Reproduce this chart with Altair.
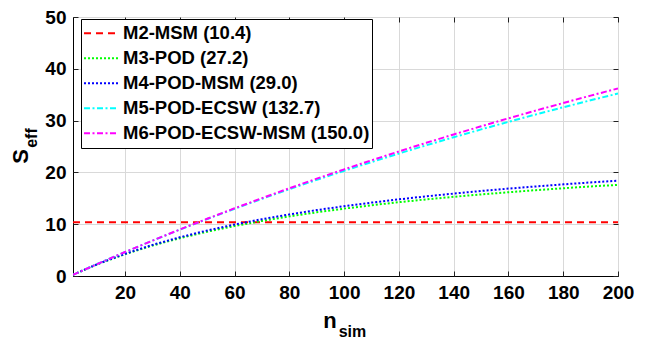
import altair as alt
import pandas as pd

# ---- data ----
n_sim = [1, 10, 20, 30, 40, 50, 60, 70, 80, 90, 100, 110, 120, 130, 140, 150, 160, 170, 180, 190, 200]
m2 = [10.4, 10.4, 10.4, 10.4, 10.4, 10.4, 10.4, 10.4, 10.4, 10.4, 10.4,
      10.4, 10.4, 10.4, 10.4, 10.4, 10.4, 10.4, 10.4, 10.4, 10.4]
m3 = [0.25, 2.28, 4.22, 5.87, 7.30, 8.55, 9.65, 10.63, 11.51, 12.30, 13.01,
      13.66, 14.25, 14.79, 15.29, 15.75, 16.17, 16.57, 16.94, 17.28, 17.60]
m4 = [0.25, 2.32, 4.29, 6.00, 7.48, 8.78, 9.94, 10.97, 11.89, 12.72, 13.48,
      14.17, 14.80, 15.38, 15.91, 16.41, 16.87, 17.29, 17.69, 18.06, 18.40]
m5 = [0.24, 2.36, 4.63, 6.82, 8.95, 11.00, 12.98, 14.90, 16.76, 18.56, 20.31,
      22.00, 23.65, 25.24, 26.79, 28.30, 29.76, 31.19, 32.57, 33.92, 35.23]
m6 = [0.24, 2.35, 4.63, 6.83, 8.98, 11.05, 13.07, 15.03, 16.94, 18.79, 20.59,
      22.34, 24.05, 25.71, 27.33, 28.90, 30.44, 31.94, 33.40, 34.82, 36.21]

names = ["M2-MSM (10.4)", "M3-POD (27.2)", "M4-POD-MSM (29.0)",
         "M5-POD-ECSW (132.7)", "M6-POD-ECSW-MSM (150.0)"]
series = [m2, m3, m4, m5, m6]
colors = ["#ff0000", "#00ff00", "#0000ff", "#00ffff", "#ff00ff"]
dashes = [[7, 5], [2, 2], [2, 2], [6, 2.5, 2, 2.5], [6, 2.5, 2, 2.5]]

x_ticks = [20, 40, 60, 80, 100, 120, 140, 160, 180, 200]
y_ticks = [0, 10, 20, 30, 40, 50]

rows = []
for name, vals in zip(names, series):
    for n, v in zip(n_sim, vals):
        rows.append({"model": name, "n": n, "S": v})
df = pd.DataFrame(rows)

FONT = "Liberation Sans"
W, H = 545, 259

xs = alt.Scale(domain=[1, 200], nice=False, zero=False)
ys = alt.Scale(domain=[0, 50], nice=False)

legend_opts = dict(title=None, orient="none", legendX=8, legendY=2,
                   symbolType="stroke", symbolSize=1156,
                   symbolStrokeWidth=2, labelFont=FONT,
                   labelFontSize=18.5, labelFontWeight="bold",
                   labelColor="black", labelOffset=4, labelLimit=1000,
                   rowPadding=0, clipHeight=24.3, padding=2,
                   strokeColor="black", fillColor="white")

lines = alt.Chart(df).mark_line(strokeWidth=2, clip=True, strokeCap="butt").encode(
    x=alt.X("n:Q", scale=xs, title=None,
            axis=alt.Axis(orient="bottom", values=x_ticks, ticks=False, tickSize=0,
                          labelPadding=7, labelFlush=False, grid=True, domain=True)),
    y=alt.Y("S:Q", scale=ys, title=None,
            axis=alt.Axis(orient="left", values=y_ticks, ticks=False, tickSize=0,
                          labelPadding=7, labelFlush=False, grid=True, domain=True)),
    color=alt.Color("model:N", scale=alt.Scale(domain=names, range=colors),
                    legend=alt.Legend(**legend_opts)),
    strokeDash=alt.StrokeDash("model:N", scale=alt.Scale(domain=names, range=dashes),
                              legend=alt.Legend(**legend_opts)),
    order=alt.Order("model:N"),
)

tick_ax = dict(domain=False, labels=False, grid=False, ticks=True, tickSize=5,
               offset=-5, tickColor="#222222", tickWidth=1)

ticks_bl = alt.Chart(df).mark_point(opacity=0).encode(
    x=alt.X("n:Q", scale=xs, title=None, axis=alt.Axis(orient="bottom", values=x_ticks, **tick_ax)),
    y=alt.Y("S:Q", scale=ys, title=None, axis=alt.Axis(orient="left", values=y_ticks, **tick_ax)),
)
ticks_tr = alt.Chart(df).mark_point(opacity=0).encode(
    x=alt.X("n:Q", scale=xs, title=None, axis=alt.Axis(orient="top", values=x_ticks, **tick_ax)),
    y=alt.Y("S:Q", scale=ys, title=None, axis=alt.Axis(orient="right", values=y_ticks, **tick_ax)),
)

label_df = pd.DataFrame({"t": ["S"]})
ylab_main = alt.Chart(label_df).mark_text(
    text="S", font=FONT, fontSize=22, fontWeight="bold", angle=270,
    align="center", baseline="alphabetic", color="black"
).encode(x=alt.value(-45), y=alt.value(139.5))
ylab_sub = alt.Chart(label_df).mark_text(
    text="eff", font=FONT, fontSize=16, fontWeight="bold", angle=270,
    align="center", baseline="alphabetic", color="black"
).encode(x=alt.value(-36), y=alt.value(121))
xlab_main = alt.Chart(label_df).mark_text(
    text="n", font=FONT, fontSize=22, fontWeight="bold",
    align="center", baseline="alphabetic", color="black"
).encode(x=alt.value(257), y=alt.value(311))
xlab_sub = alt.Chart(label_df).mark_text(
    text="sim", font=FONT, fontSize=16, fontWeight="bold",
    align="center", baseline="alphabetic", color="black"
).encode(x=alt.value(279.5), y=alt.value(320))

chart = alt.layer(lines, ticks_bl, ticks_tr, ylab_main, ylab_sub, xlab_main, xlab_sub).resolve_axis(
    x="independent", y="independent"
).properties(
    width=W, height=H,
    autosize=alt.AutoSizeParams(type="none"),
    padding={"left": 73, "top": 17, "right": 28, "bottom": 65},
    background="white",
).configure_view(
    stroke="black", strokeWidth=1
).configure_axis(
    labelFont=FONT, labelFontSize=19, labelFontWeight="bold", labelColor="black",
    domainColor="black", domainWidth=1, gridColor="#d9d9d9", gridWidth=1,
)

chart.save("out.html", embed_options={"renderer": "svg", "actions": False})
